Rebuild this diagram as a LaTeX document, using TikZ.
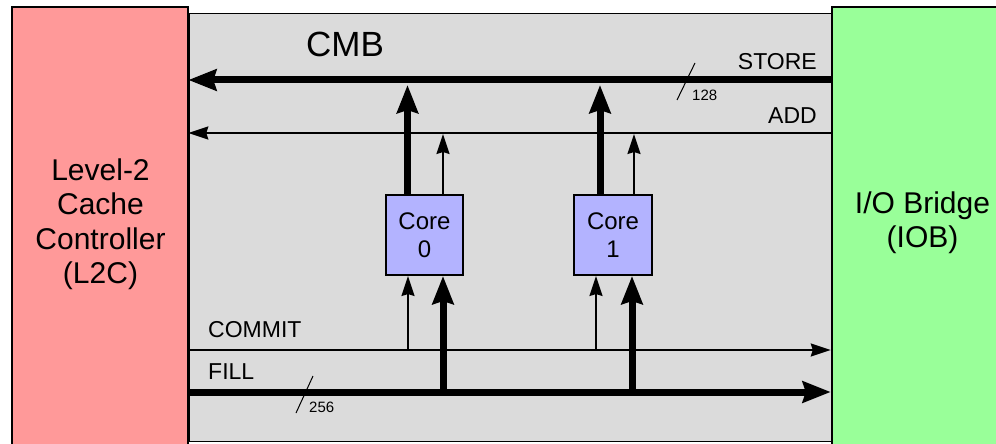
\documentclass[tikz,border=0pt]{standalone}
\usepackage{fontspec}
\setmainfont{Liberation Sans}
\usetikzlibrary{arrows.meta}

\definecolor{l2cfill}{HTML}{FF9999}
\definecolor{iobfill}{HTML}{99FF99}
\definecolor{cmbfill}{HTML}{DBDBDB}
\definecolor{corefill}{HTML}{B3B3FF}

\begin{document}
\begin{tikzpicture}[x=1pt,y=-1pt,
  unitbox/.style={draw=black, line width=2pt, inner sep=0pt, outer sep=0pt, anchor=north west},
  corebox/.style={unitbox, fill=corefill, minimum width=77.5pt, minimum height=80pt,
    align=center, font=\fontsize{24}{28}\selectfont},
  bigtext/.style={inner sep=0pt, align=center, font=\fontsize{30}{34.5}\selectfont},
  sigtext/.style={inner sep=0pt, font=\fontsize{23}{27}\selectfont},
  widthtext/.style={inner sep=0pt, anchor=base west, font=\fontsize{15}{18}\selectfont},
  bus/.style={line width=7pt, -{Stealth[length=28pt,width=21pt,inset=3pt]}},
  wire/.style={line width=2pt, -{Stealth[length=20pt,width=13pt,inset=2pt]}},
  slashmark/.style={line width=1pt}]

% page and clipping frame
\fill[white] (0,0) rectangle (996,444);
\useasboundingbox (0,0) rectangle (996,444);
\clip (0,0) rectangle (996,444);

% CMB area and the two units beside it
\node[unitbox, line width=1.5pt, fill=cmbfill, minimum width=643pt, minimum height=428.4pt]
  (cmb) at (189,13.3) {};
\node[unitbox, fill=l2cfill, minimum width=176.6pt, minimum height=460pt] (l2c) at (11.7,6.7) {};
\node[unitbox, fill=iobfill, minimum width=190pt, minimum height=460pt] (iob) at (831.7,6.7) {};

\node[bigtext] (l2ctext) at (100.5,224) {Level-2\\Cache\\Controller\\(L2C)};
\node[bigtext] (iobtext) at (922.5,222.5) {I/O Bridge\\(IOB)};

% cores
\node[corebox] (core0) at (385.7,195) {Core\\0};
\node[corebox] (core1) at (574.3,195) {Core\\1};

% bus rows and core columns
\coordinate (storey) at (0,80);
\coordinate (addy) at (0,133);
\coordinate (commity) at (0,350);
\coordinate (filly) at (0,392);
\coordinate (c0st) at (407.5,0);
\coordinate (c0ad) at (443,0);
\coordinate (c0cm) at (408,0);
\coordinate (c0fl) at (443,0);
\coordinate (c1st) at (600,0);
\coordinate (c1ad) at (634,0);
\coordinate (c1cm) at (596,0);
\coordinate (c1fl) at (632,0);

% horizontal buses
\draw[bus] (iob.west |- storey) -- (l2c.east |- storey);
\draw[wire] (iob.west |- addy) -- (l2c.east |- addy);
\draw[wire, shorten >=0.9pt] (l2c.east |- commity) -- (iob.west |- commity);
\draw[bus, shorten >=0.9pt] (l2c.east |- filly) -- (iob.west |- filly);

% core outputs
\draw[bus, shorten >=5pt] (c0st |- core0.north) -- (c0st |- storey);
\draw[wire, shorten >=1pt] (c0ad |- core0.north) -- (c0ad |- addy);
\draw[bus, shorten >=5pt] (c1st |- core1.north) -- (c1st |- storey);
\draw[wire, shorten >=1pt] (c1ad |- core1.north) -- (c1ad |- addy);

% core inputs
\draw[wire, shorten >=1pt] (c0cm |- commity) -- (c0cm |- core0.south);
\draw[bus, shorten >=1pt] (c0fl |- filly) -- (c0fl |- core0.south);
\draw[wire, shorten >=1pt] (c1cm |- commity) -- (c1cm |- core1.south);
\draw[bus, shorten >=1pt] (c1fl |- filly) -- (c1fl |- core1.south);

% labels
\node[inner sep=0pt, anchor=base west, font=\fontsize{35}{40}\selectfont] (cmblabel) at (306,57) {CMB};
\node[sigtext, anchor=base east] (storelabel) at (817,70) {STORE};
\node[sigtext, anchor=base east] (addlabel) at (817,123) {ADD};
\node[sigtext, anchor=base west] (commitlabel) at (208,337) {COMMIT};
\node[sigtext, anchor=base west] (filllabel) at (208,379) {FILL};

% bus width marks
\coordinate (s128a) at (677,100);
\coordinate (s128b) at (695,63);
\draw[slashmark] (s128a) -- (s128b);
\node[widthtext] (w128) at (692,100) {128};
\coordinate (s256a) at (296,413);
\coordinate (s256b) at (313,376);
\draw[slashmark] (s256a) -- (s256b);
\node[widthtext] (w256) at (309,412) {256};
\end{tikzpicture}
\end{document}
